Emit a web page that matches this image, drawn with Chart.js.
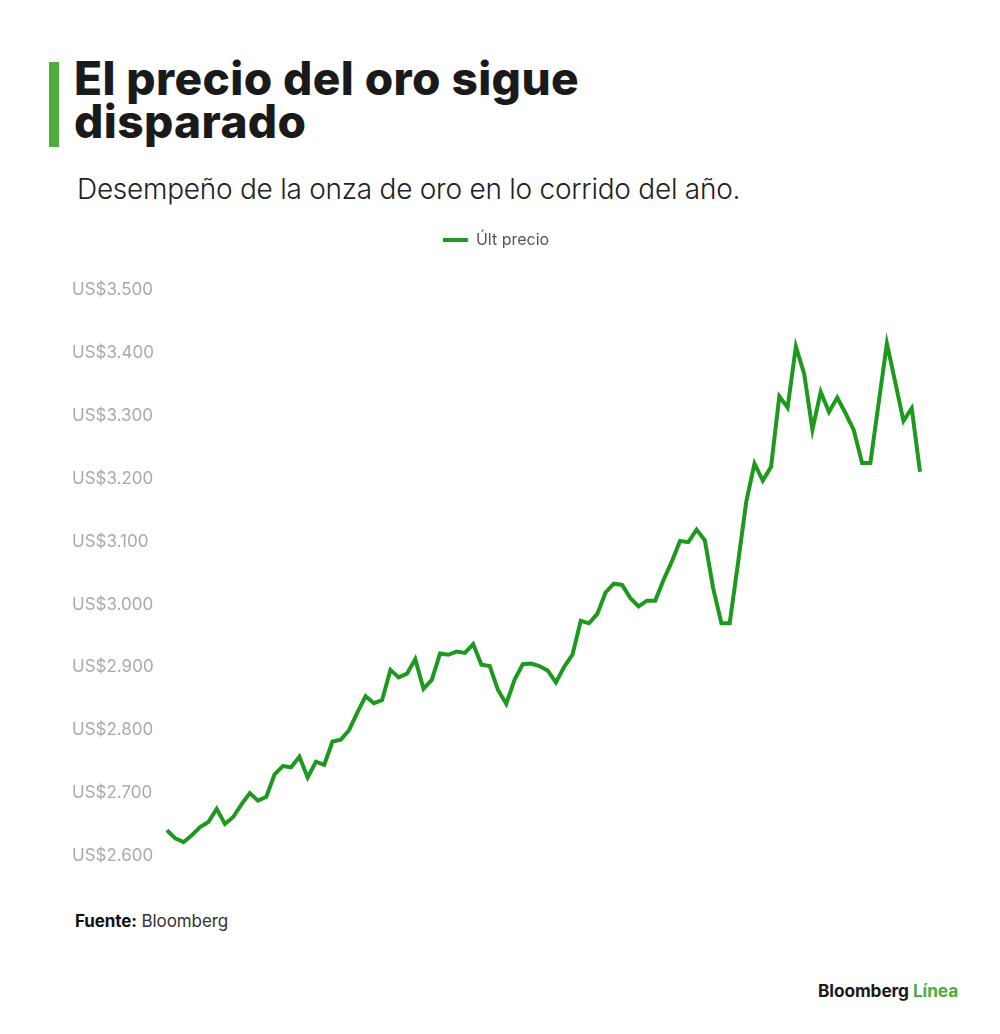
<!DOCTYPE html>
<html>
<head>
<meta charset="utf-8">
<script src="https://cdn.jsdelivr.net/npm/chart.js@4.4.1/dist/chart.umd.min.js"></script>
<style>
  html, body { margin: 0; padding: 0; background: #fff; }
  body { width: 1000px; height: 1034px; position: relative; overflow: hidden; font-family: Inter, "Liberation Sans", sans-serif; }
  #bar { position: absolute; left: 49px; top: 62px; width: 10px; height: 85px; background: #4cae3b; }
  #title { position: absolute; left: 74px; top: 57px; font-size: 46px; font-weight: 800; line-height: 43px; letter-spacing: 0.4px; color: #1a1a1a; white-space: nowrap; }
  #subtitle { position: absolute; left: 77px; top: 172px; font-size: 28px; font-weight: 300; letter-spacing: -0.25px; color: #222; white-space: nowrap; }
  #source { position: absolute; left: 75px; top: 911px; font-size: 17px; color: #333; letter-spacing: -0.1px; white-space: nowrap; }
  #source b { color: #111; font-weight: 700; }
  #brand { position: absolute; left: 818px; top: 980px; font-size: 17.3px; font-weight: 700; color: #1a1a1a; letter-spacing: -0.1px; white-space: nowrap; }
  #brand span { color: #4cae3b; }
  #wrap { position: absolute; left: 60px; top: 222px; width: 880px; height: 656px; }
</style>
</head>
<body>
<div id="bar"></div>
<div id="title">El precio del oro sigue<br>disparado</div>
<div id="subtitle">Desempeño de la onza de oro en lo corrido del año.</div>
<div id="wrap"><canvas id="c"></canvas></div>
<div id="source"><b>Fuente:</b> Bloomberg</div>
<div id="brand">Bloomberg <span>Línea</span></div>
<script>
const seriesName = 'Últ precio';
const prices = [
  2641, 2628, 2622, 2633, 2646, 2654, 2675, 2651, 2662, 2682,
  2700, 2688, 2694, 2730, 2743, 2741, 2758, 2725, 2750, 2745,
  2782, 2785, 2800, 2828, 2854, 2843, 2848, 2896, 2884, 2890,
  2913, 2866, 2880, 2922, 2920, 2925, 2923, 2937, 2904, 2902,
  2864, 2842, 2880, 2905, 2906, 2902, 2895, 2876, 2901, 2920,
  2974, 2970, 2985, 3019, 3033, 3031, 3010, 2997, 3006, 3006,
  3039, 3068, 3101, 3099, 3119, 3102, 3026, 2970, 2970, 3065,
  3163, 3224, 3197, 3219, 3331, 3313, 3410, 3367, 3278, 3338,
  3306, 3329, 3304, 3277, 3225, 3225, 3320, 3415, 3354, 3292,
  3312, 3211
];
const days = prices.map((_, i) => 'Día ' + (i + 1));
const yMin = 2600, yMax = 3500, yStep = 100;
const lineColor = '#1d9a1d';

function fmt(v) {
  const s = String(Math.round(v));
  return 'US$' + s.replace(/\B(?=(\d{3})+(?!\d))/g, '.');
}

const legendSpacer = {
  id: 'legendSpacer',
  beforeInit(chart) {
    const origFit = chart.legend.fit;
    chart.legend.fit = function () {
      origFit.bind(chart.legend)();
      this.height = 68;
    };
  }
};

new Chart(document.getElementById('c'), {
  type: 'line',
  data: {
    labels: days,
    datasets: [{
      label: seriesName,
      data: prices,
      borderColor: lineColor,
      backgroundColor: lineColor,
      borderWidth: 4,
      pointRadius: 0,
      tension: 0,
      borderJoinStyle: 'miter',
      fill: false
    }]
  },
  options: {
    responsive: true,
    maintainAspectRatio: false,
    animation: false,
    layout: { padding: { left: 12, right: 20, top: 0, bottom: 22 } },
    plugins: {
      tooltip: { enabled: false },
      legend: {
        display: true,
        position: 'top',
        align: 'center',
        labels: {
          boxWidth: 25,
          boxHeight: 4,
          padding: 10,
          color: '#555',
          font: { family: 'Inter', size: 16, weight: '400' },
          generateLabels(chart) {
            return Chart.defaults.plugins.legend.labels.generateLabels(chart).map(l => ({ ...l, lineWidth: 0, fillStyle: lineColor, strokeStyle: lineColor }));
          }
        }
      }
    },
    scales: {
      x: { display: false, offset: false },
      y: {
        min: yMin,
        max: yMax,
        grid: { display: false },
        border: { display: false },
        afterFit(scale) { scale.width = 95; },
        ticks: {
          stepSize: yStep,
          crossAlign: 'far',
          padding: 0,
          color: '#aaaaaa',
          font: { family: 'Inter', size: 17, weight: '400' },
          callback: (v) => fmt(v)
        }
      }
    }
  },
  plugins: [legendSpacer]
});
</script>
</body>
</html>
